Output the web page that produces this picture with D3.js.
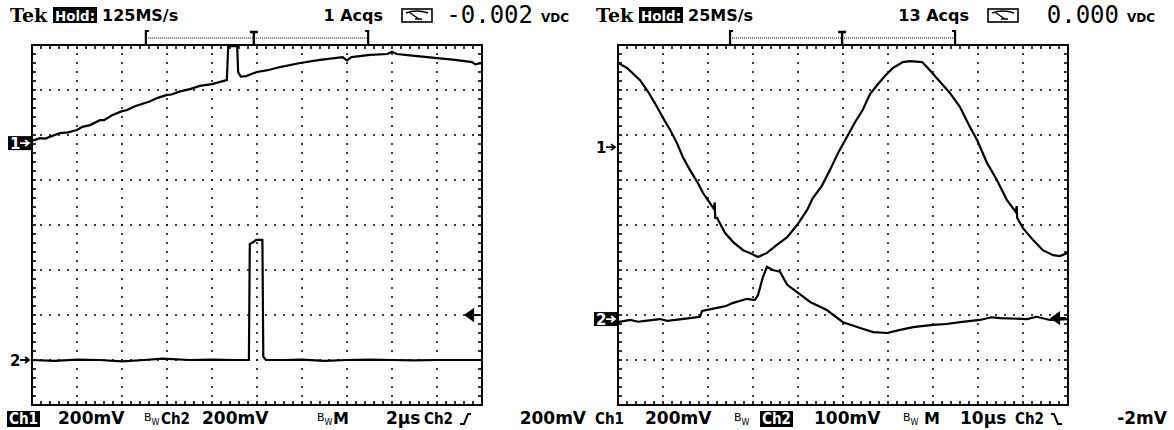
<!DOCTYPE html>
<html>
<head>
<meta charset="utf-8">
<script src="https://cdn.jsdelivr.net/npm/d3@7"></script>
<style>
  body { margin: 0; background: #fff; }
  text { font-family: "DejaVu Sans", sans-serif; font-weight: bold; fill: #000; }
</style>
</head>
<body>
<div id="chart"></div>
<script>
// ---- data (x, y in graticule divisions) ----
const leftCh1 = [[0,1.87],[0.18,1.93],[0.3,1.92],[0.4,1.96],[0.62,2.04],[0.8,2.06],[1.0,2.11],[1.12,2.18],[1.29,2.22],[1.51,2.33],[1.6,2.33],[1.78,2.44],[2.0,2.53],[2.1,2.55],[2.29,2.64],[2.51,2.71],[2.6,2.74],[2.78,2.82],[3.0,2.89],[3.1,2.9],[3.29,2.97],[3.51,3.02],[3.73,3.09],[4.0,3.13],[4.18,3.18],[4.33,3.22],[4.36,3.97],[4.56,3.98],[4.58,3.40],[4.64,3.30],[4.76,3.31],[4.89,3.36],[5.0,3.40],[5.24,3.44],[5.51,3.51],[5.96,3.60],[6.4,3.67],[6.9,3.73],[7.0,3.66],[7.1,3.73],[7.51,3.78],[7.9,3.8],[8.0,3.85],[8.1,3.8],[8.4,3.77],[9.0,3.71],[9.4,3.67],[9.78,3.62],[9.85,3.57],[10,3.6]];
const leftCh2 = [[0,-3.0],[0.5,-3.02],[1,-2.99],[1.5,-3.0],[2,-3.03],[2.5,-3.0],[2.9,-2.97],[3.5,-3.0],[4,-2.99],[4.5,-3.0],[4.82,-3.0],[4.84,-0.42],[4.92,-0.38],[4.98,-0.33],[5.12,-0.33],[5.14,-2.93],[5.2,-3.0],[5.6,-3.0],[6,-2.99],[6.5,-3.02],[7,-3.0],[7.5,-2.99],[8,-3.0],[8.5,-3.01],[9,-3.0],[9.5,-3.0],[10,-3.0]];
const rightCh1 = [[0,3.6],[0.04,3.58],[0.2,3.49],[0.49,3.22],[0.67,2.96],[0.87,2.62],[1.0,2.38],[1.16,2.11],[1.31,1.82],[1.44,1.51],[1.6,1.22],[1.76,0.96],[1.89,0.71],[2.04,0.49],[2.13,0.36],[2.15,0.5],[2.16,0.16],[2.2,0.16],[2.38,-0.18],[2.56,-0.38],[2.78,-0.56],[2.93,-0.62],[3.11,-0.71],[3.31,-0.62],[3.53,-0.44],[3.76,-0.27],[3.98,0],[4.2,0.33],[4.33,0.6],[4.53,0.87],[4.71,1.22],[4.89,1.6],[5.09,1.96],[5.27,2.29],[5.44,2.56],[5.6,2.91],[5.76,3.11],[5.93,3.31],[6.11,3.49],[6.33,3.62],[6.49,3.64],[6.76,3.62],[6.93,3.44],[7.16,3.18],[7.38,2.93],[7.6,2.62],[7.82,2.18],[7.98,1.89],[8.2,1.38],[8.42,1.0],[8.64,0.56],[8.84,0.29],[8.86,0.42],[8.87,0.16],[9.0,-0.07],[9.22,-0.33],[9.44,-0.56],[9.67,-0.67],[9.82,-0.69],[10,-0.62]];
const rightCh2 = [[0,-2.16],[0.27,-2.11],[0.45,-2.15],[0.6,-2.13],[0.93,-2.09],[1.1,-2.13],[1.27,-2.11],[1.6,-2.07],[1.82,-2.04],[1.87,-1.91],[2.2,-1.84],[2.4,-1.8],[2.56,-1.73],[2.87,-1.64],[3.04,-1.67],[3.11,-1.56],[3.22,-1.16],[3.31,-0.93],[3.44,-1.0],[3.6,-1.04],[3.76,-1.33],[3.98,-1.49],[4.27,-1.71],[4.64,-1.89],[5.0,-2.16],[5.38,-2.29],[5.67,-2.38],[5.98,-2.4],[6.27,-2.33],[6.56,-2.27],[7.0,-2.22],[7.3,-2.2],[7.6,-2.16],[8.04,-2.11],[8.3,-2.05],[8.49,-2.07],[9.09,-2.09],[9.3,-2.04],[9.6,-2.11],[10,-2.09]];

// ground reference levels, trigger level, trigger window (divisions)
const groundLevels = { left: [1.82, -3.0], right: [1.73, -2.09] };
const triggerLevel = { left: -2.0, right: -2.07 };
const triggerWindow = { left: [2.53, 4.93, 7.47], right: [2.49, 4.98, 7.49] };

// readouts
const headerLeft = ['125MS/s', '1 Acqs', '-0.002', 'VDC'];
const headerRight = ['25MS/s', '13 Acqs', '0.000', 'VDC'];
const footerLeft = ['200mV', '200mV', '2\u00b5s', '200mV'];
const footerRight = ['200mV', '100mV', '10\u00b5s', '-2mV'];

const W = 1174, H = 430;
const svg = d3.select('#chart').append('svg')
  .attr('width', W).attr('height', H);
svg.append('rect').attr('width', W).attr('height', H).attr('fill', '#fff');

// footer column offsets from the graticule's left edge
const panels = [
  { key: 'left', x0: 32, ch1: leftCh1, ch2: leftCh2, header: headerLeft, footer: footerLeft, active: 1, slope: 'up',
    cols: { ch1: -23, v1: 26, bw1: 112, ch2: 129, v2: 170, bw2: 285, m: 301, t: 354, trig: 392, sl: 428, lv: 554 } },
  { key: 'right', x0: 618, ch1: rightCh1, ch2: rightCh2, header: headerRight, footer: footerRight, active: 2, slope: 'down',
    cols: { ch1: -23, v1: 27, bw1: 116, ch2: 144, v2: 196, bw2: 285, m: 306, t: 342, trig: 397, sl: 433, lv: 549 } }
];

const gTop = 45, gh = 360, gw = 450;

panels.forEach(p => {
  const g = svg.append('g');
  const x = d3.scaleLinear().domain([0, 10]).range([p.x0, p.x0 + gw]);
  const y = d3.scaleLinear().domain([-4, 4]).range([gTop + gh, gTop]);

  // dotted graticule
  const dots = [];
  d3.range(1, 10).forEach(i => d3.range(0, 41).forEach(j => dots.push([i, -4 + j * 0.2])));
  d3.range(-3, 4).forEach(j => d3.range(0, 51).forEach(i => dots.push([i * 0.2, j])));
  g.append('g').selectAll('rect').data(dots).join('rect')
    .attr('x', d => x(d[0]) - 0.9).attr('y', d => y(d[1]) - 0.9)
    .attr('width', 1.8).attr('height', 1.8).attr('fill', '#111');

  // frame + edge ticks
  g.append('rect').attr('x', x(0)).attr('y', y(4)).attr('width', gw).attr('height', gh)
    .attr('fill', 'none').attr('stroke', '#000').attr('stroke-width', 2);
  const tk = g.append('g').attr('stroke', '#000').attr('stroke-width', 1.6);
  d3.range(1, 50).forEach(i => {
    const xx = x(i * 0.2);
    tk.append('line').attr('x1', xx).attr('x2', xx).attr('y1', y(4)).attr('y2', y(4) + 4);
    tk.append('line').attr('x1', xx).attr('x2', xx).attr('y1', y(-4)).attr('y2', y(-4) - 4);
  });
  d3.range(1, 40).forEach(j => {
    const yy = y(-4 + j * 0.2);
    tk.append('line').attr('x1', x(0)).attr('x2', x(0) + 4).attr('y1', yy).attr('y2', yy);
    tk.append('line').attr('x1', x(10)).attr('x2', x(10) - 4).attr('y1', yy).attr('y2', yy);
  });

  // traces
  const line = d3.line().x(d => x(d[0])).y(d => y(d[1]));
  [p.ch1, p.ch2].forEach(s => {
    g.append('path').datum(s).attr('d', line)
      .attr('fill', 'none').attr('stroke', '#000').attr('stroke-width', 2.2)
      .attr('stroke-linejoin', 'miter');
  });

  // ground markers
  groundLevels[p.key].forEach((lv, i) => {
    const inv = (i + 1) === p.active;
    const mg = g.append('g').attr('transform', `translate(${p.x0 - 24},${y(lv)})`);
    if (inv) mg.append('rect').attr('x', 0).attr('y', -7).attr('width', 23).attr('height', 14).attr('fill', '#000');
    mg.append('text').attr('x', 2).attr('y', 6).attr('font-size', 15)
      .style('fill', inv ? '#fff' : '#000').text(i + 1);
    mg.append('path').attr('d', 'M12,0H21M17,-3L21,0L17,3')
      .attr('fill', 'none').attr('stroke', inv ? '#fff' : '#000').attr('stroke-width', 1.8);
  });

  // trigger level arrow on right edge
  const ty = y(triggerLevel[p.key]);
  g.append('path').attr('d', `M${x(10) - 16},${ty}L${x(10) - 9},${ty - 5}V${ty + 5}Z M${x(10) - 10},${ty}H${x(10) - 2}`)
    .attr('fill', '#000').attr('stroke', '#000').attr('stroke-width', 2.2);

  // trigger window bar
  const tw = triggerWindow[p.key];
  const tb = g.append('g').attr('stroke', '#000');
  tb.append('line').attr('x1', x(tw[0])).attr('x2', x(tw[2])).attr('y1', 38).attr('y2', 38)
    .attr('stroke-width', 1).attr('stroke-dasharray', '1,1');
  tb.append('path').attr('d', `M${x(tw[0]) + 3},31H${x(tw[0])}V${gTop}M${x(tw[2]) - 3},31H${x(tw[2])}V${gTop}`)
    .attr('fill', 'none').attr('stroke-width', 2.2);
  tb.append('path').attr('d', `M${x(tw[1]) - 4},32H${x(tw[1]) + 4}M${x(tw[1])},32V${gTop}`)
    .attr('fill', 'none').attr('stroke-width', 2.4);

  // header
  const hx = p.x0 - 22;
  g.append('text').attr('x', hx).attr('y', 22).attr('font-size', 19)
    .style('font-family', '"DejaVu Serif", serif').text('Tek');
  g.append('rect').attr('x', hx + 43).attr('y', 7).attr('width', 44).attr('height', 16).attr('fill', '#000');
  g.append('text').attr('x', hx + 45).attr('y', 21).attr('font-size', 14).style('fill', '#fff')
    .attr('textLength', 40).attr('lengthAdjust', 'spacingAndGlyphs').text('Hold:');
  g.append('text').attr('x', hx + 92).attr('y', 21).attr('font-size', 16).text(p.header[0]);
  g.append('text').attr('x', x(10) - 99).attr('y', 21).attr('font-size', 16).attr('text-anchor', 'end').text(p.header[1]);
  const ic = g.append('g').attr('transform', `translate(${x(10) - 80},9)`);
  ic.append('rect').attr('width', 30).attr('height', 13).attr('fill', 'none').attr('stroke', '#000').attr('stroke-width', 1.6);
  ic.append('path').attr('d', 'M4,4Q15,0 26,4M8,4L17,10M13,10H20')
    .attr('fill', 'none').attr('stroke', '#000').attr('stroke-width', 1.4);
  g.append('text').attr('x', x(10) + 51).attr('y', 23).attr('font-size', 24).attr('text-anchor', 'end')
    .style('font-weight', 'normal').style('font-family', '"DejaVu Sans Mono", monospace').text(p.header[2]);
  g.append('text').attr('x', x(10) + 59).attr('y', 22).attr('font-size', 12).text(p.header[3]);

  // footer
  const fy = 424, c = p.cols;
  const chLabel = (xx, n) => {
    const inv = n === p.active;
    if (inv) g.append('rect').attr('x', xx - 2).attr('y', fy - 13).attr('width', 33).attr('height', 16).attr('fill', '#000');
    g.append('text').attr('x', xx).attr('y', fy).attr('font-size', 16).style('fill', inv ? '#fff' : '#000')
      .attr('textLength', 29).attr('lengthAdjust', 'spacingAndGlyphs').text('Ch' + n);
  };
  const bw = xx => {
    const t = g.append('text').attr('x', xx).attr('y', fy - 3).attr('font-size', 11).style('font-weight', 'normal');
    t.append('tspan').text('B');
    t.append('tspan').attr('dy', 4).attr('font-size', 8).text('W');
  };
  chLabel(p.x0 + c.ch1, 1);
  g.append('text').attr('x', p.x0 + c.v1).attr('y', fy).attr('font-size', 17).text(p.footer[0]);
  bw(p.x0 + c.bw1);
  chLabel(p.x0 + c.ch2, 2);
  g.append('text').attr('x', p.x0 + c.v2).attr('y', fy).attr('font-size', 17).text(p.footer[1]);
  bw(p.x0 + c.bw2);
  g.append('text').attr('x', p.x0 + c.m).attr('y', fy).attr('font-size', 16).text('M');
  g.append('text').attr('x', p.x0 + c.t).attr('y', fy).attr('font-size', 17).text(p.footer[2]);
  g.append('text').attr('x', p.x0 + c.trig).attr('y', fy).attr('font-size', 16)
    .attr('textLength', 29).attr('lengthAdjust', 'spacingAndGlyphs').text('Ch2');
  const sx = p.x0 + c.sl;
  g.append('path').attr('d', p.slope === 'up'
      ? `M${sx},${fy}L${sx + 4},${fy}L${sx + 8},${fy - 10}L${sx + 11},${fy - 10}`
      : `M${sx},${fy - 10}L${sx + 3},${fy - 10}L${sx + 7},${fy}L${sx + 11},${fy}`)
    .attr('fill', 'none').attr('stroke', '#000').attr('stroke-width', 2);
  g.append('text').attr('x', p.x0 + c.lv).attr('y', fy).attr('font-size', 17).attr('text-anchor', 'end').text(p.footer[3]);
});
</script>
</body>
</html>
